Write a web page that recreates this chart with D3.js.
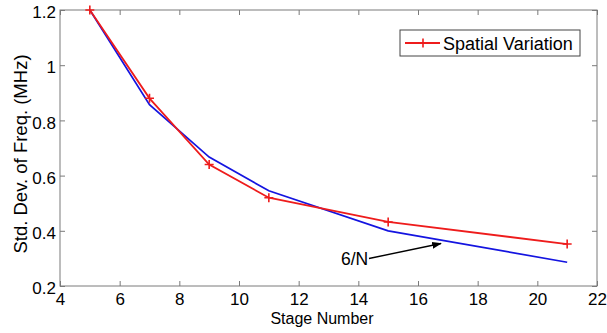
<!DOCTYPE html>
<html>
<head>
<meta charset="utf-8">
<script src="https://cdn.jsdelivr.net/npm/d3@7"></script>
<style>
  body { margin: 0; background: #fff; }
  svg text { font-family: "Liberation Sans", Arial, sans-serif; fill: #000; }
</style>
</head>
<body>
<div id="chart"></div>
<script>
// data
const stages = [5, 7, 9, 11, 15, 21];
const spatialVariation = [1.2, 0.88, 0.64, 0.52, 0.432, 0.352];
const inverseN = [1.2, 0.857, 0.667, 0.545, 0.4, 0.286];
const xTicks = [4, 6, 8, 10, 12, 14, 16, 18, 20, 22];
const yTicks = [0.2, 0.4, 0.6, 0.8, 1, 1.2];

const W = 607, H = 333;
const margin = {top: 10, right: 10, bottom: 47, left: 60};
const width = W - margin.left - margin.right;
const height = H - margin.top - margin.bottom;

const svg = d3.select("#chart").append("svg")
    .attr("width", W)
    .attr("height", H);

const g = svg.append("g")
    .attr("transform", "translate(" + margin.left + "," + margin.top + ")");

const x = d3.scaleLinear().domain([4, 22]).range([0, width]);
const y = d3.scaleLinear().domain([0.2, 1.2]).range([height, 0]);

const axisColor = "#7a7a7a";

// box
g.append("rect")
    .attr("width", width)
    .attr("height", height)
    .attr("fill", "none")
    .attr("stroke", axisColor)
    .attr("stroke-width", 1);

// inward ticks, matlab style
const xAxis = d3.axisBottom(x).tickValues(xTicks).tickSizeInner(-5).tickSizeOuter(0).tickPadding(7);
const yAxis = d3.axisLeft(y).tickValues(yTicks).tickSizeInner(-5).tickSizeOuter(0).tickPadding(4)
    .tickFormat(d3.format("~g"));

const gx = g.append("g").attr("transform", "translate(0," + height + ")").call(xAxis);
const gy = g.append("g").call(yAxis);
g.append("g").call(d3.axisTop(x).tickValues(xTicks).tickSizeInner(-5).tickSizeOuter(0).tickFormat(""));
g.append("g").attr("transform", "translate(" + width + ",0)")
    .call(d3.axisRight(y).tickValues(yTicks).tickSizeInner(-5).tickSizeOuter(0).tickFormat(""));

g.selectAll(".domain").remove();
g.selectAll(".tick line").attr("stroke", axisColor);
g.selectAll(".tick text").style("font-size", "17px").attr("fill", "#000");
gy.selectAll(".tick text").attr("dy", "0.45em");

// lines
const lineGen = d3.line().x((d, i) => x(stages[i])).y(d => y(d));

g.append("path")
    .datum(inverseN)
    .attr("fill", "none")
    .attr("stroke", "#1414e0")
    .attr("stroke-width", 1.7)
    .attr("d", lineGen);

g.append("path")
    .datum(spatialVariation)
    .attr("fill", "none")
    .attr("stroke", "#ee1c1c")
    .attr("stroke-width", 1.8)
    .attr("d", lineGen);

// plus markers
g.selectAll(".mk")
    .data(spatialVariation)
    .enter()
    .append("path")
    .attr("class", "mk")
    .attr("transform", (d, i) => "translate(" + x(stages[i]) + "," + y(d) + ")")
    .attr("d", "M-4.5,0H4.5M0,-4.5V4.5")
    .attr("stroke", "#ee1c1c")
    .attr("stroke-width", 1.6);

// axis labels
svg.append("text")
    .attr("x", 322)
    .attr("y", 324)
    .attr("text-anchor", "middle")
    .style("font-size", "16px")
    .text("Stage Number");

svg.append("text")
    .attr("transform", "translate(27,154) rotate(-90)")
    .attr("text-anchor", "middle")
    .style("font-size", "18.5px")
    .text("Std. Dev. of Freq. (MHz)");

// legend
const leg = svg.append("g").attr("transform", "translate(400,30)");
leg.append("rect")
    .attr("width", 180)
    .attr("height", 26)
    .attr("fill", "#fff")
    .attr("stroke", "#444")
    .attr("stroke-width", 1);
leg.append("line")
    .attr("x1", 5).attr("x2", 40).attr("y1", 13).attr("y2", 13)
    .attr("stroke", "#ee1c1c").attr("stroke-width", 1.8);
leg.append("path")
    .attr("transform", "translate(23,13)")
    .attr("d", "M-4.5,0H4.5M0,-4.5V4.5")
    .attr("stroke", "#ee1c1c").attr("stroke-width", 1.6);
leg.append("text")
    .attr("x", 43).attr("y", 20)
    .style("font-size", "18px")
    .text("Spatial Variation");

// annotation
svg.append("defs").append("marker")
    .attr("id", "arrow")
    .attr("viewBox", "0 0 10 10")
    .attr("refX", 9).attr("refY", 5)
    .attr("markerWidth", 7).attr("markerHeight", 7)
    .attr("orient", "auto")
    .append("path").attr("d", "M0,1.5L10,5L0,8.5z").attr("fill", "#000");

svg.append("text")
    .attr("x", 341).attr("y", 265)
    .style("font-size", "17.5px")
    .text("6/N");
svg.append("line")
    .attr("x1", 369).attr("y1", 258.5)
    .attr("x2", 441).attr("y2", 243.5)
    .attr("stroke", "#000").attr("stroke-width", 1.4)
    .attr("marker-end", "url(#arrow)");
</script>
</body>
</html>
